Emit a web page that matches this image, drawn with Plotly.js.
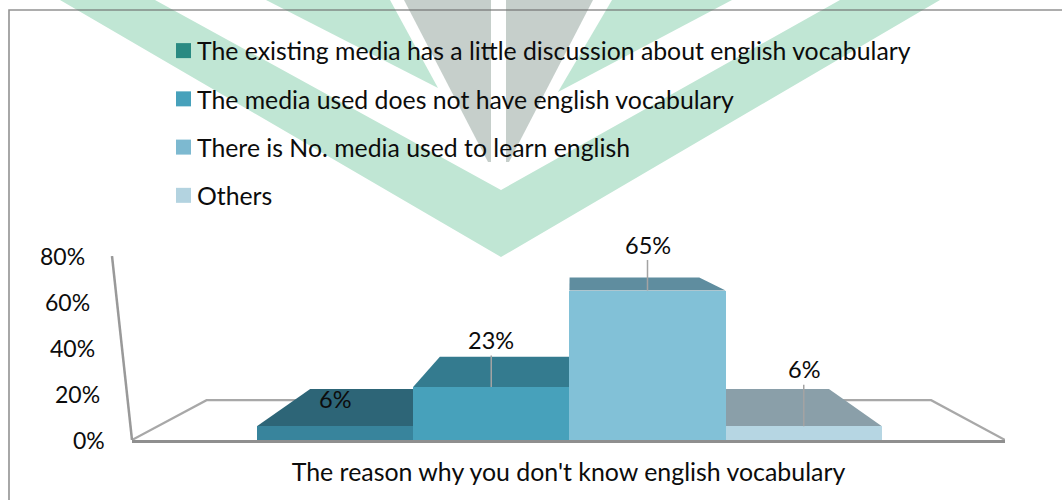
<!DOCTYPE html>
<html>
<head>
<meta charset="utf-8">
<script src="https://cdn.plot.ly/plotly-3.0.1.min.js"></script>
<style>html,body{margin:0;padding:0;background:#fff}#chart{width:1062px;height:500px}</style>
</head>
<body>
<div id="chart"></div>
<script>
// Survey answers, one per bar
const seriesNames = [
  "The existing media has a little discussion about english vocabulary",
  "The media used does not have english vocabulary",
  "There is No. media used to learn english",
  "Others"
];
const seriesValues = [6, 23, 65, 6];
const axisTitle = "The reason why you don't know english vocabulary";
const tickValues = [0, 20, 40, 60, 80];

const legendColors = ["#2a8a82", "#47a1bb", "#7db9d0", "#b3d3e0"];
const faceColors = ["#38849c", "#47a1bb", "#82c1d7", "#b6d6e3"];
const topColors = ["#2d6577", "#347b8f", "#5f8d9f", "#8a9fa9"];

// Page layout in pixels
const W = 1062, H = 500;
const M = {l: 132, r: 57, t: 256, b: 60};
const plotW = W - M.l - M.r, plotH = H - M.t - M.b;
const UNIT = 156.25;              // width of one bar
const XMIN = -203 / UNIT, XMAX = XMIN + plotW / UNIT;
const YMAX = 80;

// Pseudo-3D floor: points recede towards a vanishing point
const VP = {x: 1.507, y: 96.1};
const DEPTH_X = 0.83, DEPTH_Y = 0.82;
const back = (x, v) => [VP.x + (x - VP.x) * DEPTH_X, VP.y + (v - VP.y) * DEPTH_Y];
const polygon = pts => "M" + pts.map(p => p.join(",")).join("L") + "Z";

// Pixel helpers for the paper-anchored decoration
const px = x => (x - M.l) / plotW;
const py = y => 1 - (y - M.t) / plotH;
const paperPoly = pts => polygon(pts.map(p => [px(p[0]), py(p[1])]));
const WALL_LEAN_PX = 20;
const wallPx = v => M.l - WALL_LEAN_PX * v / YMAX;

const watermark = (pts, color) => ({
  type: "path", xref: "paper", yref: "paper", layer: "below",
  path: paperPoly(pts), fillcolor: color, line: {width: 0}
});
const GREEN = "#c0e6d4", GREY = "#c6cfcb";

const shapes = [
  watermark([[60, 0], [155, 0], [501, 190], [840, 0], [940, 0], [501, 257]], GREEN),
  watermark([[266, 0], [390, 0], [438, 88]], GREEN),
  watermark([[612, 0], [732, 0], [558, 92]], GREEN),
  watermark([[404, 0], [491, 0], [491, 162], [488, 162]], GREY),
  watermark([[506, 0], [593, 0], [509, 162], [506, 162]], GREY),
  // chart frame
  {type: "path", xref: "paper", yref: "paper", layer: "below",
   path: `M${px(W + 2)},${py(10)}L${px(9)},${py(10)}L${px(9)},${py(H + 2)}`,
   line: {color: "rgba(110,110,110,0.75)", width: 1.6}},
  // back-left wall edge, leaning out of the plot area
  {type: "line", xref: "paper", yref: "y", layer: "above",
   x0: px(wallPx(0)), y0: 0, x1: px(wallPx(YMAX)), y1: YMAX,
   line: {color: "#999999", width: 2.5}}
];

// Floor outline
const floorL = back(XMIN, 0), floorR = back(XMAX, 0);
shapes.push({
  type: "path", xref: "x", yref: "y", layer: "below",
  path: `M${XMIN},0L${floorL.join(",")}L${floorR.join(",")}L${XMAX},0`,
  line: {color: "#a8a8a8", width: 2.2}
});

// Receding top of each bar
seriesValues.forEach((v, i) => {
  const x0 = i - 0.5, x1 = i + 0.5;
  shapes.push({
    type: "path", xref: "x", yref: "y", layer: "below",
    path: polygon([[x0, v], back(x0, v), back(x1, v), [x1, v]]),
    fillcolor: topColors[i], line: {width: 0}
  });
});

const FONT = "Lato, sans-serif";
const INK = "#0c0c0c";

const traces = [
  {
    type: "bar", x: seriesValues.map((_, i) => i), y: seriesValues, width: 1,
    marker: {color: faceColors, line: {width: 0}},
    showlegend: false, hoverinfo: "skip"
  }
].concat(seriesNames.map((name, i) => ({
  type: "scatter", mode: "markers", x: [null], y: [null], name,
  legendgroup: "g" + i,
  marker: {symbol: "square", size: 15, color: legendColors[i]}
})));

// Value labels; the first sits on its bar, the rest hang on leader lines
const labelLift = [27, 47, 46, 57];
const annotations = seriesValues.map((v, i) => ({
  x: i, y: v, xref: "x", yref: "y",
  text: v + "%", font: {family: FONT, size: 23.5, color: INK},
  showarrow: i > 0, arrowhead: 0, arrowwidth: 1.5, arrowcolor: "#a3a3a3",
  ax: 0, ay: -labelLift[i],
  yshift: i === 0 ? labelLift[0] : 0
}));

// Percent scale follows the leaning wall edge
tickValues.forEach(v => {
  annotations.push({
    x: px(wallPx(v)), y: v, xref: "paper", yref: "y",
    xanchor: "right", yanchor: "middle", xshift: -25, yshift: 0,
    text: v + "%", showarrow: false,
    font: {family: FONT, size: 23, color: INK}
  });
});

const layout = {
  width: W, height: H,
  margin: {l: M.l, r: M.r, t: M.t, b: M.b, pad: 0},
  paper_bgcolor: "#ffffff", plot_bgcolor: "rgba(0,0,0,0)",
  font: {family: FONT, color: INK, size: 22},
  barmode: "overlay", bargap: 0,
  xaxis: {
    range: [XMIN, XMAX], showgrid: false, zeroline: false, fixedrange: true,
    showticklabels: false, ticks: "", showline: true,
    linecolor: "#8f8f8f", linewidth: 2.5,
    title: {text: axisTitle, font: {family: FONT, size: 24.9, color: INK}, standoff: 22}
  },
  yaxis: {range: [0, YMAX], visible: false, fixedrange: true},
  legend: {
    x: px(157), y: py(28), xanchor: "left", yanchor: "top",
    bgcolor: "rgba(0,0,0,0)", traceorder: "grouped", tracegroupgap: 13,
    itemsizing: "trace", font: {family: FONT, size: 24.8, color: INK}
  },
  shapes, annotations
};

Plotly.newPlot("chart", traces, layout, {displayModeBar: false, staticPlot: true}).then(() => {
  // pull the swatches in towards their labels
  document.querySelectorAll(".legend .legendsymbols").forEach(s => {
    s.setAttribute("transform", "translate(6.5,0)");
  });
});
</script>
</body>
</html>
